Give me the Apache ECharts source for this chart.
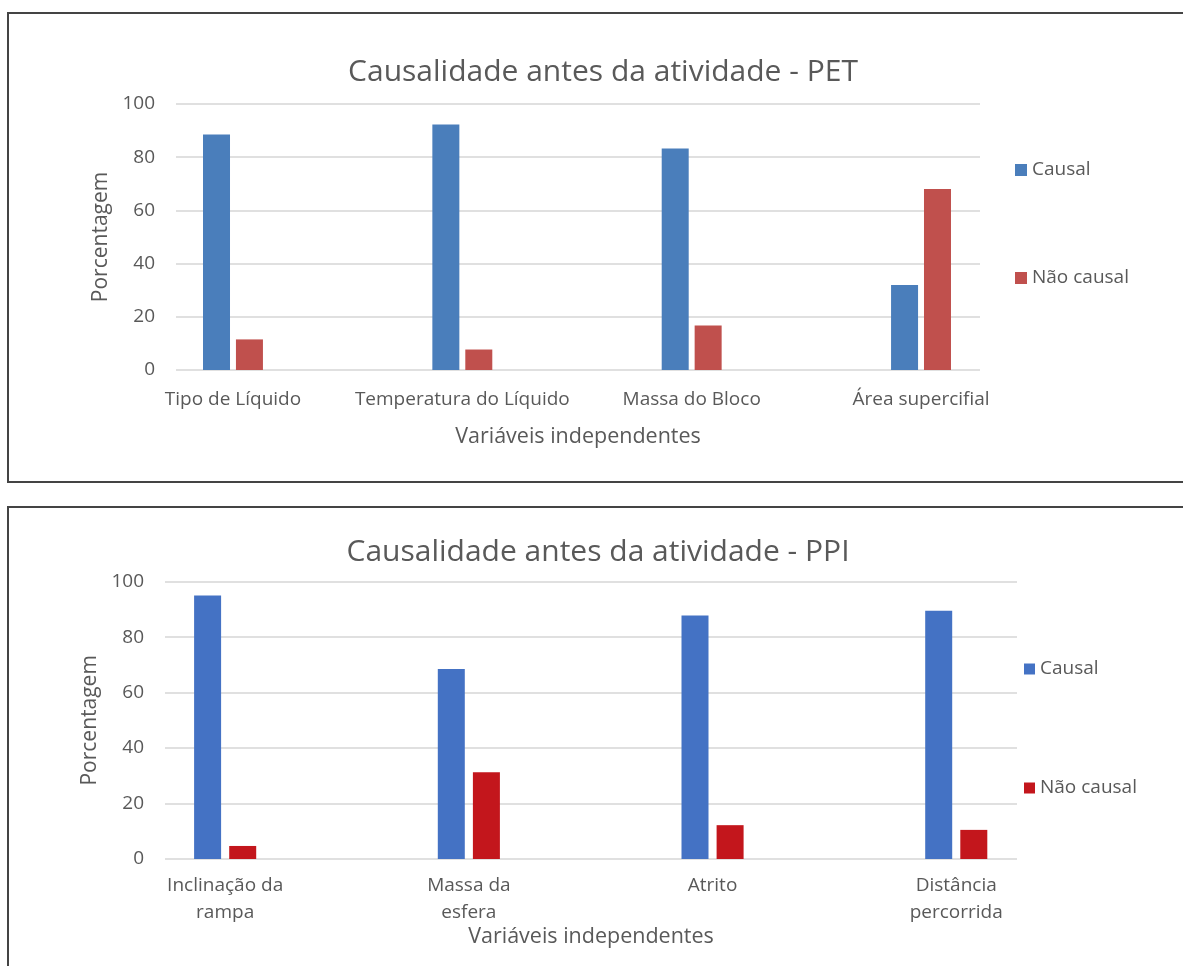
<!DOCTYPE html>
<html>
<head>
<meta charset="utf-8">
<script src="https://cdn.jsdelivr.net/npm/echarts@6/dist/echarts.min.js"></script>
<style>
  html, body { margin: 0; padding: 0; width: 1183px; height: 966px; overflow: hidden; background: #fff; }
  .chart { position: absolute; left: 0; width: 1183px; }
  .frame { position: absolute; border: 2px solid #444; box-sizing: border-box; }
</style>
</head>
<body>
<div class="frame" style="left:7px; top:12px; width:1200px; height:471px;"></div>
<div class="frame" style="left:7px; top:506px; width:1200px; height:500px;"></div>
<div id="top" class="chart" style="top:0; height:495px;"></div>
<div id="bottom" class="chart" style="top:495px; height:471px;"></div>
<script>
// ---- data ----
const petTitle = 'Causalidade antes da atividade - PET';
const petCategories = ['Tipo de Líquido', 'Temperatura do Líquido', 'Massa do Bloco', 'Área supercifial'];
const petCausal = [88.5, 92.3, 83.3, 32.0];
const petNaoCausal = [11.5, 7.7, 16.7, 68.0];

const ppiTitle = 'Causalidade antes da atividade - PPI';
const ppiCategories = ['Inclinação da\nrampa', 'Massa da\nesfera', 'Atrito', 'Distância\npercorrida'];
const ppiCausal = [95.0, 68.5, 87.8, 89.5];
const ppiNaoCausal = [4.7, 31.3, 12.2, 10.5];

const seriesNames = ['Causal', 'Não causal'];
const yAxisName = 'Porcentagem';
const xAxisName = 'Variáveis independentes';
const yMin = 0, yMax = 100, yStep = 20;

// ---- build ----
const FONT = 'Open Sans';
const TXT = '#595959';

function build(c) {
  return {
    animation: false,
    textStyle: { fontFamily: FONT },
    title: {
      text: c.title, left: c.titleX, top: c.titleTop, textAlign: 'center', padding: 0,
      textStyle: { fontFamily: FONT, fontSize: 30, fontWeight: 'normal', color: TXT }
    },
    legend: {
      orient: 'vertical', left: c.legLeft, top: c.legTop, padding: 0,
      itemWidth: c.legSize, itemHeight: c.legSize, itemGap: c.legGap,
      icon: 'rect',
      textStyle: { fontFamily: FONT, fontSize: 19, color: TXT, lineHeight: 20 },
      data: seriesNames
    },
    grid: [
      { left: c.aLeft, top: c.gTop, width: c.aWidth, height: c.gHeight },
      { left: c.bLeft, top: c.gTop, width: c.bWidth, height: c.gHeight }
    ],
    xAxis: [
      { type: 'value', gridIndex: 0, min: 0, max: 1,
        axisLine: { show: false }, axisTick: { show: false }, axisLabel: { show: false }, splitLine: { show: false },
        name: xAxisName, nameLocation: 'middle', nameGap: c.xNameGap,
        nameTextStyle: { fontFamily: FONT, fontSize: 21.5, color: TXT } },
      { type: 'category', gridIndex: 1, data: c.categories,
        axisLine: { show: false }, axisTick: { show: false },
        axisLabel: { fontFamily: FONT, fontSize: 19, color: TXT, margin: c.catMargin, lineHeight: 27, interval: 0 } }
    ],
    yAxis: [
      { type: 'value', gridIndex: 0, min: yMin, max: yMax, interval: yStep,
        axisLine: { show: false }, axisTick: { show: false },
        axisLabel: { fontFamily: FONT, fontSize: 19, color: TXT, margin: 21 },
        splitLine: { lineStyle: { color: '#d6d6d6', width: 1.5 } },
        name: yAxisName, nameLocation: 'middle', nameGap: c.yNameGap, nameRotate: 90,
        nameTextStyle: { fontFamily: FONT, fontSize: 21, color: TXT } },
      { type: 'value', gridIndex: 1, min: yMin, max: yMax, interval: yStep, show: false }
    ],
    series: [
      { name: seriesNames[0], type: 'bar', xAxisIndex: 1, yAxisIndex: 1, data: c.causal,
        barWidth: c.barWidth, barGap: c.barGap, itemStyle: { color: c.blue } },
      { name: seriesNames[1], type: 'bar', xAxisIndex: 1, yAxisIndex: 1, data: c.naoCausal,
        barWidth: c.barWidth, barGap: c.barGap, itemStyle: { color: c.red } }
    ]
  };
}

const topChart = echarts.init(document.getElementById('top'));
topChart.setOption(build({
  title: petTitle, titleX: 603, titleTop: 57,
  categories: petCategories, causal: petCausal, naoCausal: petNaoCausal,
  aLeft: 176, aWidth: 804, bLeft: 118.3, bWidth: 917.4, gTop: 104, gHeight: 266,
  legLeft: 1015, legTop: 160, legSize: 12, legGap: 88,
  xNameGap: 56, yNameGap: 64, catMargin: 16,
  barWidth: 27, barGap: '22%', blue: '#4a7ebb', red: '#c0504d'
}));

const botChart = echarts.init(document.getElementById('bottom'));
botChart.setOption(build({
  title: ppiTitle, titleX: 598, titleTop: 42,
  categories: ppiCategories, causal: ppiCausal, naoCausal: ppiNaoCausal,
  aLeft: 165, aWidth: 852, bLeft: 103.3, bWidth: 974.8, gTop: 86.7, gHeight: 277.3,
  legLeft: 1024, legTop: 164, legSize: 11, legGap: 99,
  xNameGap: 67, yNameGap: 64, catMargin: 13,
  barWidth: 27, barGap: '30%', blue: '#4472c4', red: '#c3161c'
}));
</script>
</body>
</html>
